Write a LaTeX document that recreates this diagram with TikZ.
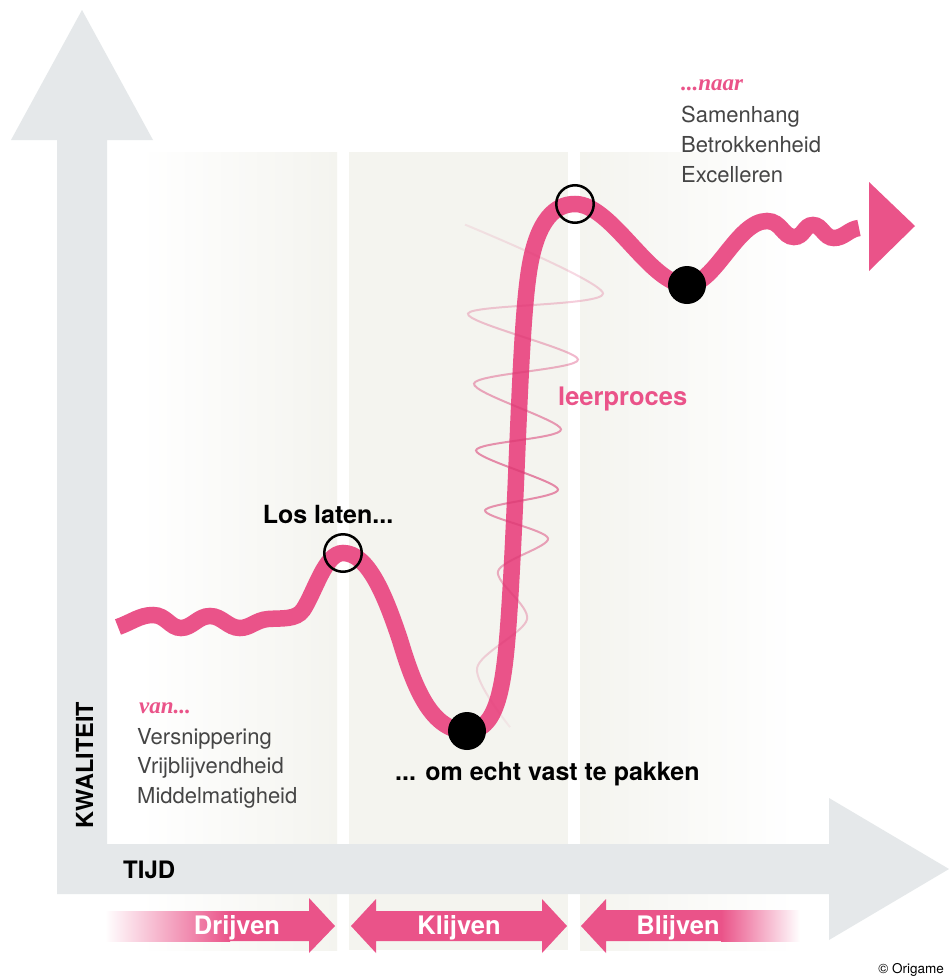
\documentclass[tikz,border=0pt]{standalone}
\usepackage{fontspec}
\setmainfont{TeX Gyre Heros}
\newfontfamily\serifit{Liberation Serif}
\usepackage{tikz}
\usetikzlibrary{positioning, fadings}

\definecolor{roze}{HTML}{EA5389}
\definecolor{golfroze}{HTML}{D93A72}
\definecolor{asgrijs}{HTML}{E5E8EA}
\definecolor{zand}{HTML}{F4F4EF}
\definecolor{tekstgrijs}{HTML}{454545}

\tikzfading[name=golfvervaging, top color=transparent!85, bottom color=transparent!90, middle color=transparent!0]

\tikzset{
  tekst/.style={font=\fontsize{25}{28}\selectfont\bfseries, inner sep=0pt},
  lijst/.style={font=\fontsize{22}{30}\selectfont, text=tekstgrijs, anchor=base west, inner sep=0pt},
  kop/.style={font=\serifit\fontsize{23}{26}\selectfont\bfseries\itshape, text=roze, anchor=base west, inner sep=0pt},
  fase/.style={font=\fontsize{25.5}{28}\selectfont\bfseries, text=white, anchor=base, inner sep=0pt},
  opencirkel/.style={circle, draw=black, line width=2.5pt, minimum size=37.5pt, inner sep=0pt},
  punt/.style={circle, fill=black, minimum size=38pt, inner sep=0pt},
  lijn/.style={draw=roze, line width=16.5pt},
}

\begin{document}
\begin{tikzpicture}[x=1pt, y=-1pt]
        \useasboundingbox (0,0) rectangle (949,977);
        \fill[white] (0,0) rectangle (949,977);

        \shade[left color=white, right color=zand] (140,152) rectangle (337,950);
        \fill[zand] (349,152) rectangle (568,950);
        \shade[left color=zand, right color=white] (580,152) rectangle (795,950);

        \fill[asgrijs] (57,844) -- (57,140) -- (11,140) -- (82,10) -- (153,140) -- (107,140) -- (107,844) -- cycle;
        \fill[asgrijs] (57,844) -- (829,844) -- (829,798) -- (949,869) -- (829,940) -- (829,894) -- (57,894) -- cycle;

        \shade[left color=white, right color=roze] (105,911) rectangle (230,941);
        \fill[roze] (229,911) -- (309,911) -- (309,898) -- (335,926) -- (309,953) -- (309,941) -- (229,941) -- cycle;
        \fill[roze] (351,926) -- (376,899) -- (376,911) -- (542,911) -- (542,899) -- (567,926) -- (542,953) -- (542,941) -- (376,941) -- (376,953) -- cycle;
        \fill[roze] (581,926) -- (606,899) -- (606,910) -- (722,910) -- (722,941) -- (606,941) -- (606,953) -- cycle;
        \shade[left color=roze, right color=white] (721,910) rectangle (800,941);

        \draw[lijn] (118,627) .. controls (132,622) and (140,615) .. (153,615)
            .. controls (166,615) and (170,628) .. (181,628)
            .. controls (192,628) and (198,616) .. (210,616)
            .. controls (222,616) and (228,628) .. (240,628)
            .. controls (250,628) and (256,620) .. (268,619)
            .. controls (282,618) and (296,620) .. (303,610)
            .. controls (315,592) and (325,553) .. (343,553)
            .. controls (368,553) and (385,595) .. (400,640)
            .. controls (415,690) and (432,731) .. (467,731)
            .. controls (500,731) and (505,680) .. (510,600)
            .. controls (518,470) and (520,320) .. (530,265)
            .. controls (538,220) and (555,204) .. (575,204)
            .. controls (612,204) and (650,285) .. (687,285)
            .. controls (715,285) and (737,221) .. (767,221)
            .. controls (781,221) and (783,237) .. (794,237)
            .. controls (804,237) and (804,225) .. (813,225)
            .. controls (822,225) and (824,238) .. (834,238)
            .. controls (844,238) and (849,229) .. (859,228);
        \fill[roze] (869,182) -- (915,226) -- (869,271) -- cycle;

        \draw[golfroze, line width=2pt, opacity=0.6, path fading=golfvervaging]
            plot[smooth] coordinates {(465,224) (603,293) (468,313) (578,359) (474,383) (561,429) (476,450)
            (558,489) (485,510) (548,538) (498,571) (527,619) (477,668) (510,727)};

        \node[opencirkel] (los)  at (343,553) {};
        \node[punt]       (vast) at (467,731) {};
        \node[opencirkel] (top)  at (575,204) {};
        \node[punt]       (dal)  at (687,285) {};

        \node[tekst] (loslaten) [above=9pt of los, xshift=-15pt] {Los laten...};
        \node[tekst, anchor=base west] (vastpakken) at (395,780) {... om echt vast te pakken};
        \node[tekst, anchor=base west, text=roze, font=\fontsize{25.5}{28}\selectfont\bfseries] (leerproces) at (558,405) {leerproces};

        \node[kop]   (van)   at (139,713) {van...};
        \node[lijst] (van1)  at (137,744) {Versnippering};
        \node[lijst] (van2)  at (137,773.5) {Vrijblijvendheid};
        \node[lijst] (van3)  at (137,803) {Middelmatigheid};
        \node[kop]   (naar)  at (681,90) {...naar};
        \node[lijst] (naar1) at (681,122.5) {Samenhang};
        \node[lijst] (naar2) at (681,152.5) {Betrokkenheid};
        \node[lijst] (naar3) at (681,182) {Excelleren};

        \node[tekst, rotate=90, anchor=base, font=\fontsize{23.5}{28}\selectfont\bfseries] (kwaliteit) at (93,765) {KWALITEIT};
        \node[tekst, anchor=base west, font=\fontsize{24}{28}\selectfont\bfseries] (tijd) at (123,878) {TIJD};

        \node[fase] (drijven) at (237,934) {Drijven};
        \node[fase] (klijven) at (459,934) {Klijven};
        \node[fase] (blijven) at (678,934) {Blijven};

        \node[anchor=base east, inner sep=0pt, font=\fontsize{13.5}{16}\selectfont] (copy) at (944,973) {© Origame};
\end{tikzpicture}
\end{document}
